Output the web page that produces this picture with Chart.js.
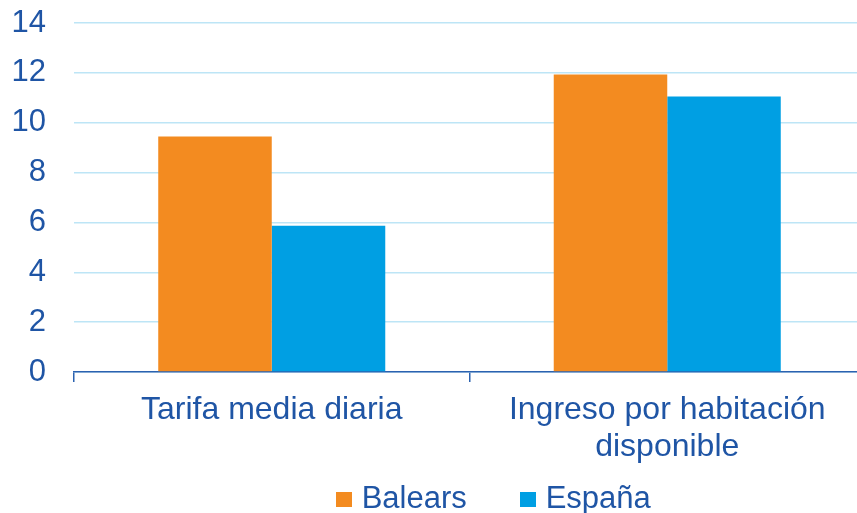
<!DOCTYPE html>
<html>
<head>
<meta charset="utf-8">
<script src="https://cdn.jsdelivr.net/npm/chart.js@4"></script>
<style>
  html, body { margin: 0; padding: 0; background: #fff; overflow: hidden; }
  #wrap { position: relative; width: 865px; height: 513px; }
  .lg { position: absolute; top: 482px; height: 31px; line-height: 31px; white-space: nowrap;
        font-family: 'Liberation Sans', Arial, sans-serif; font-size: 31px; color: #1F55A5; }
  .lg .box { position: absolute; left: 0; top: 10px; width: 16px; height: 15px; }
  .lg .txt { position: absolute; left: 25.7px; top: 0; }
</style>
</head>
<body>
<div id="wrap">
  <canvas id="c" width="865" height="513"></canvas>
  <div id="legend"></div>
</div>
<script>
const categories = ['Tarifa media diaria', ['Ingreso por habitación', 'disponible']];
const seriesNames = ['Balears', 'España'];
const seriesColors = ['#F38B20', '#009FE3'];
const balears = [9.45, 11.93];
const espana = [5.87, 11.05];
const yTicks = [0, 2, 4, 6, 8, 10, 12, 14];

const textColor = '#1F55A5';
const axisColor = '#2B62B0';
const gridColor = '#BDE5F6';
const fam = 'Liberation Sans, Arial, sans-serif';

const chart = new Chart(document.getElementById('c'), {
  type: 'bar',
  data: {
    labels: categories,
    datasets: [
      { label: seriesNames[0], data: balears, backgroundColor: seriesColors[0], borderWidth: 0 },
      { label: seriesNames[1], data: espana, backgroundColor: seriesColors[1], borderWidth: 0 }
    ]
  },
  options: {
    responsive: false,
    animation: false,
    events: [],
    layout: { padding: { top: 23, right: 0, bottom: 41, left: 0 } },
    plugins: {
      tooltip: { enabled: false },
      legend: { display: false }
    },
    scales: {
      x: {
        afterFit: (s) => { s.height = 100; s.paddingLeft = 0; s.paddingRight = 0; },
        grid: { offset: true, drawOnChartArea: false, drawTicks: true, tickLength: 10, color: axisColor, lineWidth: 1.5 },
        border: { display: true, color: axisColor, width: 1.5 },
        ticks: { color: textColor, font: { family: fam, size: 32, lineHeight: 1.15 }, padding: 10, maxRotation: 0, autoSkip: false }
      },
      y: {
        min: 0,
        max: 14,
        afterFit: (s) => { s.width = 74; s.paddingTop = 0; s.paddingBottom = 0; },
        afterBuildTicks: (s) => { s.ticks = yTicks.map(v => ({ value: v })); },
        grid: { color: gridColor, lineWidth: 1.5, drawTicks: false },
        border: { display: false },
        ticks: { color: textColor, font: { family: fam, size: 31 }, padding: 28 }
      }
    },
    datasets: { bar: { categoryPercentage: 0.574, barPercentage: 1.0 } }
  }
});

// HTML legend built from the chart's datasets
const legendLefts = [336, 520];
const legend = document.getElementById('legend');
chart.data.datasets.forEach((ds, i) => {
  const item = document.createElement('div');
  item.className = 'lg';
  item.style.left = legendLefts[i] + 'px';
  const box = document.createElement('span');
  box.className = 'box';
  box.style.background = ds.backgroundColor;
  const txt = document.createElement('span');
  txt.className = 'txt';
  txt.textContent = ds.label;
  item.appendChild(box);
  item.appendChild(txt);
  legend.appendChild(item);
});
</script>
</body>
</html>
